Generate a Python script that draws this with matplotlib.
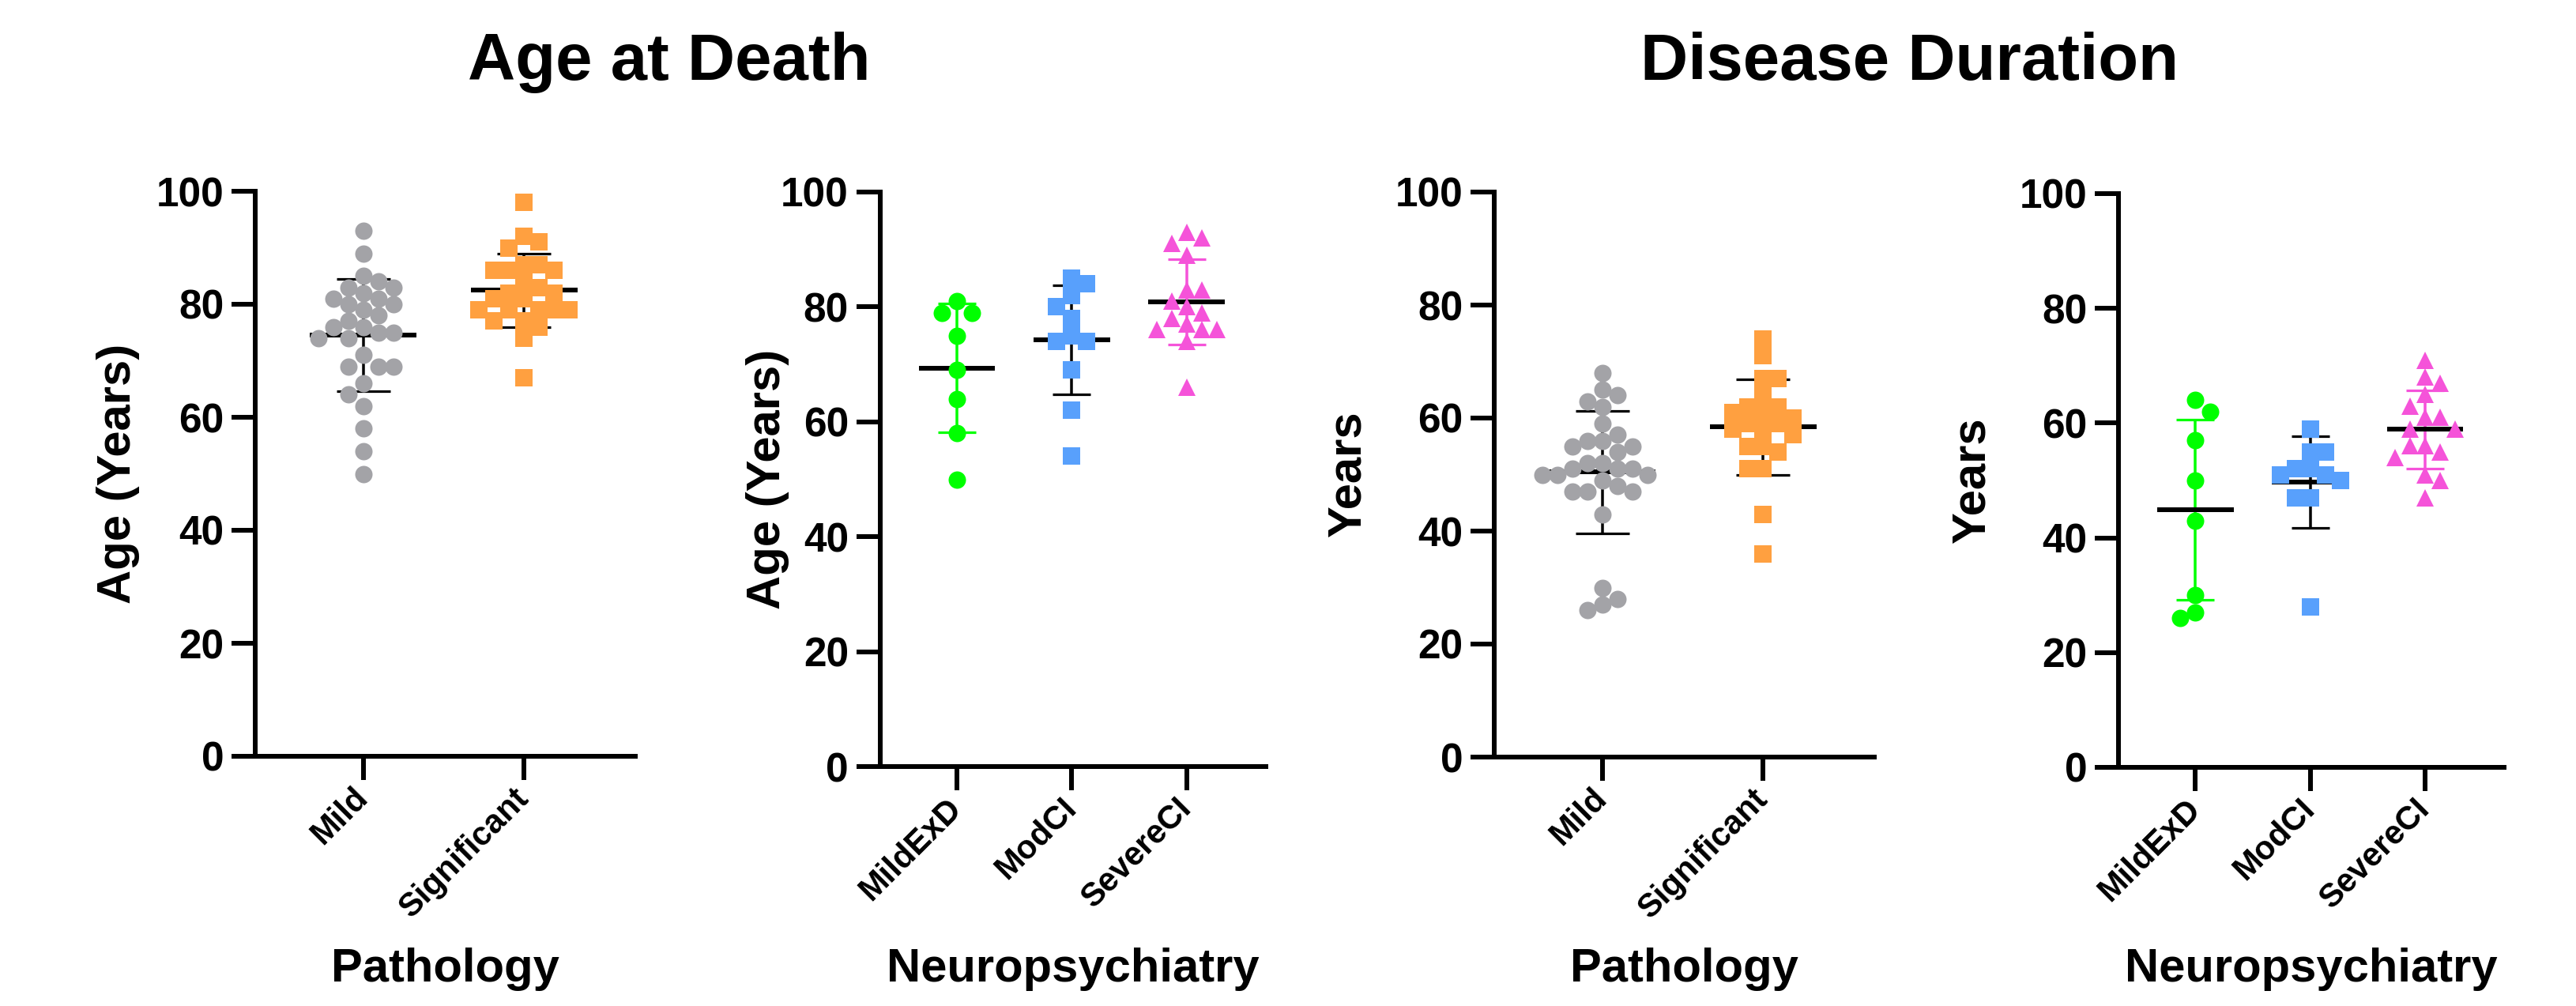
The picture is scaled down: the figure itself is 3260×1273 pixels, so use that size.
import matplotlib
matplotlib.use('Agg')
import matplotlib.pyplot as plt
import numpy as np

plt.rcParams['font.family'] = ['Liberation Sans', 'DejaVu Sans']
plt.rcParams['font.weight'] = 'bold'

# ---------------- data ----------------
pathology_cats = ['Mild', 'Significant']
neuro_cats = ['MildExD', 'ModCI', 'SevereCI']
y_ticks = [0, 20, 40, 60, 80, 100]

age_mild = [93, 89, 85, 84, 83, 83, 82, 81, 81, 80, 80, 79, 78, 77, 76, 76,
            75, 75, 74, 74, 71, 69, 69, 69, 66, 64, 62, 58, 54, 50]
age_significant = [98, 92, 91, 90, 87, 87, 86, 86, 86, 84, 83, 82, 82, 81, 81,
                   79, 79, 79, 79, 79, 77, 77, 76, 74, 67]
age_mildexd = [81, 79, 79, 75, 69, 64, 58, 50]
age_modci = [85, 84, 82, 80, 78, 75, 74, 74, 69, 62, 54]
age_severeci = [93, 92, 91, 89, 83, 83, 81, 80, 79, 78, 77, 76, 76, 76, 74, 66]

dur_mild = [68, 65, 64, 63, 62, 59, 57, 56, 56, 55, 55, 54, 52, 52, 51, 51, 51,
            50, 50, 50, 49, 48, 47, 47, 47, 43, 30, 28, 27, 26]
dur_significant = [74, 71, 67, 67, 64, 62, 62, 61, 61, 60, 59, 59, 58, 58, 57,
                   55, 55, 54, 51, 51, 43, 36]
dur_mildexd = [64, 62, 57, 50, 43, 30, 27, 26]
dur_modci = [59, 55, 55, 52, 52, 51, 51, 50, 47, 47, 28]
dur_severeci = [71, 68, 67, 65, 63, 61, 61, 59, 59, 56, 56, 55, 54, 51, 50, 47]

# ---------------- styles ----------------
GRAY, ORANGE, GREEN, BLUE, PINK = '#A3A3A7', '#FFA040', '#00FF00', '#58A0FC', '#F553D9'
style = {
    'Mild': dict(marker='o', color=GRAY, err='black'),
    'Significant': dict(marker='s', color=ORANGE, err='black'),
    'MildExD': dict(marker='o', color=GREEN, err=GREEN),
    'ModCI': dict(marker='s', color=BLUE, err='black'),
    'SevereCI': dict(marker='^', color=PINK, err=PINK),
}

W, H = 3260, 1273
DPI = 100
fig = plt.figure(figsize=(W / DPI, H / DPI), dpi=DPI)
PT = DPI / 72.0

panels = [
    dict(box=(323, 804, 242, 957), cats=pathology_cats, data=[age_mild, age_significant],
         ylabel='Age (Years)', xlabel='Pathology', ylx=-0.36),
    dict(box=(1113.6, 1602, 243, 970), cats=neuro_cats, data=[age_mildexd, age_modci, age_severeci],
         ylabel='Age (Years)', xlabel='Neuropsychiatry', ylx=-0.29),
    dict(box=(1891, 2372, 243, 958), cats=pathology_cats, data=[dur_mild, dur_significant],
         ylabel='Years', xlabel='Pathology', ylx=-0.385),
    dict(box=(2681, 3169, 245, 971), cats=neuro_cats, data=[dur_mildexd, dur_modci, dur_severeci],
         ylabel='Years', xlabel='Neuropsychiatry', ylx=-0.38),
]

MS_PX = 22.0  # marker diameter in pixels


def swarm_offsets(vals, px_per_x, px_per_y):
    step = 19.0
    thr = 18.5
    placed = []
    offs = []
    balance = 0
    for v in vals:
        y = v * px_per_y
        chosen = None
        for k in range(0, 30):
            if k == 0:
                cands = [0]
            else:
                cands = [-k, k] if balance > 0 else [k, -k]
            for c in cands:
                x = c * step
                if all((x - px) ** 2 + (y - py) ** 2 >= thr ** 2 for px, py in placed):
                    chosen = x
                    break
            if chosen is not None:
                break
        placed.append((chosen, y))
        balance += np.sign(chosen)
        offs.append(chosen / px_per_x)
    return np.array(offs)


for p in panels:
    l, r, t, b = p['box']
    ax = fig.add_axes([l / W, 1 - b / H, (r - l) / W, (b - t) / H])
    n = len(p['cats'])
    x0, x1 = -0.67, n - 1 + 0.69
    ax.set_xlim(x0, x1)
    ax.set_ylim(0, 100)
    px_per_x = (r - l) / (x1 - x0)
    px_per_y = (b - t) / 100.0

    for i, (cat, vals) in enumerate(zip(p['cats'], p['data'])):
        st = style[cat]
        vals = np.array(sorted(vals, reverse=True), dtype=float)
        mean = vals.mean()
        sd = vals.std(ddof=1)
        # mean line
        ax.hlines(mean, i - 0.332, i + 0.332, color='black', lw=6 / PT, zorder=2)
        # SD error bar
        cap_pts = 0.165 * px_per_x / PT
        ax.errorbar(i, mean, yerr=sd, fmt='none', ecolor=st['err'], elinewidth=3.5 / PT,
                    capsize=cap_pts, capthick=3.2 / PT, zorder=1)
        offs = swarm_offsets(vals, px_per_x, px_per_y)
        ax.plot(i + offs, vals, linestyle='none', marker=st['marker'], color=st['color'],
                markersize=MS_PX / PT, markeredgewidth=0, zorder=3, clip_on=False)

    for side in ['top', 'right']:
        ax.spines[side].set_visible(False)
    for side in ['left', 'bottom']:
        ax.spines[side].set_linewidth(6 / PT)
        ax.spines[side].set_capstyle('projecting')
    ax.set_yticks(y_ticks)
    ax.set_yticklabels([str(v) for v in y_ticks], fontsize=37, fontweight='bold')
    ax.set_xticks(range(n))
    ax.set_xticklabels(p['cats'], rotation=45, ha='right', va='center',
                       rotation_mode='anchor', fontsize=30, fontweight='bold')
    ax.tick_params(axis='both', direction='out', length=30 / PT, width=6 / PT, color='black')
    ax.tick_params(axis='y', pad=7)
    ax.tick_params(axis='x', pad=12)

    ax.set_ylabel(p['ylabel'], fontsize=43, fontweight='bold')
    ax.yaxis.label.set_va('center')
    ax.yaxis.set_label_coords(p['ylx'], 0.5)
    ax.set_xlabel(p['xlabel'], fontsize=43, fontweight='bold')
    ax.xaxis.label.set_va('center')
    ax.xaxis.set_label_coords(0.5, -(1227 - b) / (b - t))

fig.text(847 / W, 1 - 79 / H, 'Age at Death', ha='center', va='center', fontsize=60, fontweight='bold')
fig.text(2417 / W, 1 - 79 / H, 'Disease Duration', ha='center', va='center', fontsize=60, fontweight='bold')

fig.savefig('out.png', dpi=DPI, facecolor='white')
